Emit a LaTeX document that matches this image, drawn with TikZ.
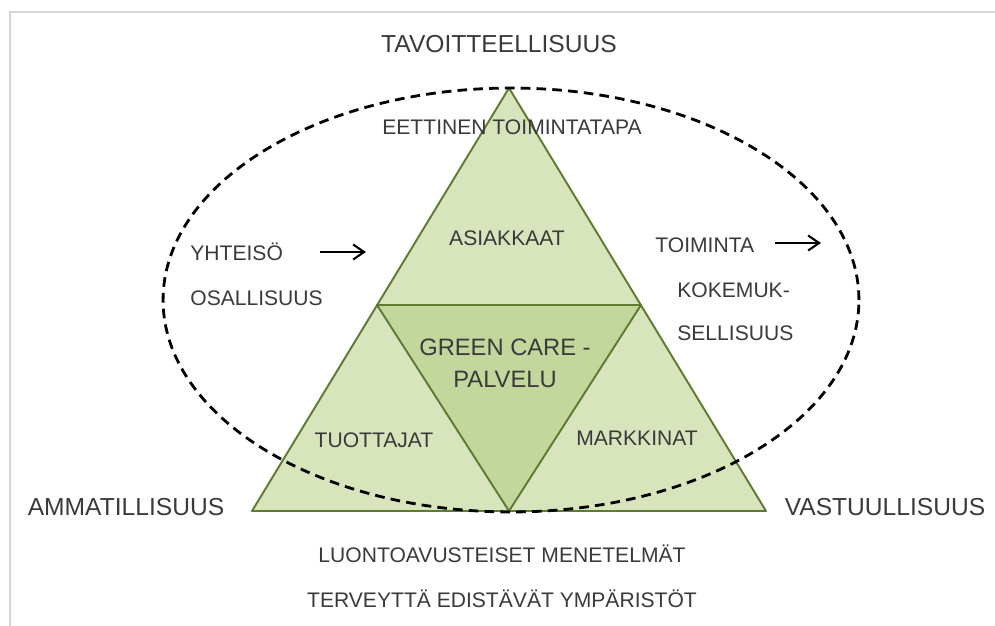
\documentclass[tikz,border=0pt]{standalone}
\usepackage{fontspec}
\setmainfont{Liberation Sans}
\usepackage{xcolor}
\usepackage{tikz}
\usetikzlibrary{arrows.meta, positioning}
\definecolor{GC_TEXT}{HTML}{3a3a3a}
\definecolor{GC_LIGHT}{HTML}{d8e4bc}
\definecolor{GC_DARK}{HTML}{c3d69b}
\definecolor{GC_EDGE}{HTML}{5f7a32}
\definecolor{GC_FRAME}{HTML}{d4d4d4}
\tikzset{
  lbl/.style={
    inner sep=0pt, text=GC_TEXT,
    font=\fontsize{12}{14}\selectfont,
    text height=8.6pt, text depth=0pt},
  corner/.style={
    lbl, font=\fontsize{14}{16}\selectfont, text height=10pt},
  core/.style={
    lbl, font=\fontsize{13.5}{16}\selectfont, text height=9.7pt},
  part/.style={
    draw=GC_EDGE, line width=1.1pt, line join=round, fill=GC_LIGHT},
  ring/.style={
    draw=black, line width=1.6pt, dash pattern=on 5.5pt off 3.5pt},
  arr/.style={-{Straight Barb[length=2.2mm,width=3mm]}, line width=1.2pt, black},
}

\begin{document}
\begin{tikzpicture}[x=0.02cm, y=-0.02cm]

  \useasboundingbox (0,0) rectangle (995,626);
  \draw[GC_FRAME, line width=0.9pt] (10,626) -- (10,12) -- (995,12);

  \coordinate (apex) at (509,88);
  \coordinate (bl)   at (252,511);
  \coordinate (br)   at (766,511);
  \coordinate (ml)   at (377,305);
  \coordinate (mr)   at (641,305);
  \coordinate (mb)   at (509,511);

  \filldraw[part] (apex) -- (bl) -- (br) -- cycle;
  \filldraw[part, fill=GC_DARK] (ml) -- (mr) -- (mb) -- cycle;

  \draw[ring] (511,300) ellipse [x radius=6.96cm, y radius=4.24cm];

  \node[corner] (tavoite) at (499,44) {TAVOITTEELLISUUS};
  \node[corner] (ammat)   at (126,507) {AMMATILLISUUS};
  \node[corner] (vastuu)  at (885,507) {VASTUULLISUUS};

  \node[lbl] (eettinen) at (512,127) {EETTINEN TOIMINTATAPA};
  \node[lbl] (asiak)    at (507,238) {ASIAKKAAT};
  \node[lbl] (tuott)    at (374,440) {TUOTTAJAT};
  \node[lbl] (markk)    at (637,438) {MARKKINAT};

  \node[core] (gc1) at (505,347) {GREEN CARE -};
  \node[core, below=0.28cm of gc1] (gc2) {PALVELU};

  \node[lbl, anchor=west] (yhteiso) at (190,253) {YHTEISÖ};
  \node[lbl, below=0.9cm of yhteiso.west, anchor=west] (osall) {OSALLISUUS};

  \node[lbl, anchor=west] (toim) at (655,245) {TOIMINTA};
  \node[lbl, anchor=west] (kokem) at (677,290) {KOKEMUK-};
  \node[lbl, below=0.86cm of kokem.west, anchor=west] (sellis) {SELLISUUS};

  \node[lbl] (luonto) at (502,555) {LUONTOAVUSTEISET MENETELMÄT};
  \node[lbl, below=0.59cm of luonto] (terveys) {TERVEYTTÄ EDISTÄVÄT YMPÄRISTÖT};

  \coordinate (yh1) at (320,252);
  \coordinate (yh2) at (366,252);
  \coordinate (to1) at (775,243);
  \coordinate (to2) at (821,243);

  \draw[arr] (yh1) -- (yh2);
  \draw[arr] (to1) -- (to2);

\end{tikzpicture}
\end{document}
